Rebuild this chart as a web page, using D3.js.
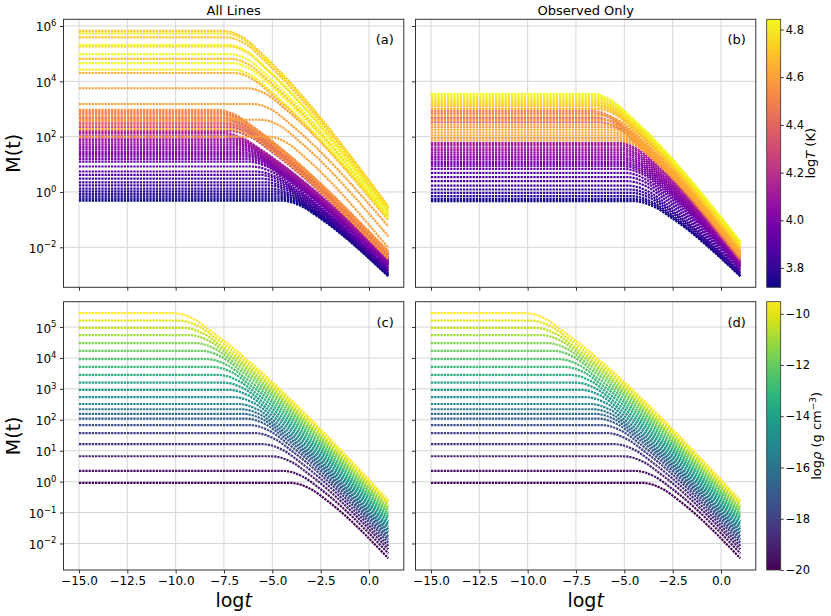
<!DOCTYPE html>
<html>
<head>
<meta charset="utf-8">
<script src="https://cdn.jsdelivr.net/npm/d3@7/dist/d3.min.js"></script>
<style>
html,body{margin:0;padding:0;background:#fff;}
svg text{font-family:"DejaVu Sans",sans-serif;fill:#000;}
</style>
</head>
<body>
<svg id="fig" width="831" height="616"></svg>
<script>
// ---------------- DATA (all M values are log10 M) ----------------
// each row: [colour value, plateau, knee centre logt, value at knee, value one unit after knee, value at logt = 1]
const xTickValues = [-15, -12.5, -10, -7.5, -5, -2.5, 0];
const topYExponents = [-2, 0, 2, 4, 6];
const bottomYExponents = [-2, -1, 0, 1, 2, 3, 4, 5];
const tempTicks = [3.8, 4.0, 4.2, 4.4, 4.6, 4.8];
const rhoTicks = [-20, -18, -16, -14, -12, -10];
const panelTitles = ["All Lines", "Observed Only"];
const panelTags = ["(a)", "(b)", "(c)", "(d)"];

// Panel (a): All Lines, colour = log T
const yellowA = [
  [4.72, 5.82, -6.46, 5.56, 4.94, -0.52],
  [4.78, 5.73, -6.42, 5.48, 4.85, -0.56],
  [4.70, 5.59, -6.36, 5.34, 4.71, -0.62],
  [4.83, 5.32, -6.28, 5.07, 4.46, -0.70],
  [4.75, 5.26, -6.25, 5.01, 4.40, -0.73],
  [4.84, 4.98, -6.18, 4.74, 4.14, -0.80],
  [4.68, 4.81, -6.14, 4.57, 3.98, -0.86],
  [4.84, 4.66, -6.10, 4.43, 3.85, -0.90],
  [4.80, 4.42, -6.04, 4.19, 3.62, -0.97],
  [4.66, 4.30, -6.00, 4.07, 3.51, -1.02]
];
const orangeA = [
  [4.60, 3.75, -5.3, 3.53, 2.98, -0.90],
  [4.60, 3.18, -5.0, 2.96, 2.41, -1.24],
  [4.60, 2.61, -4.6, 2.39, 1.83, -1.60],
  [4.60, 2.00, -4.2, 1.76, 1.18, -2.02]
];
const bandA = [
  [4.55, 2.97, -6.86, 2.77, 2.29, -2.14],
  [4.50, 2.90, -6.80, 2.70, 2.22, -2.17],
  [4.45, 2.83, -6.74, 2.63, 2.15, -2.20],
  [4.58, 2.76, -6.66, 2.56, 2.08, -2.22],
  [4.40, 2.69, -6.60, 2.49, 2.01, -2.25],
  [4.35, 2.62, -6.54, 2.42, 1.94, -2.28],
  [4.52, 2.55, -6.48, 2.35, 1.87, -2.31],
  [4.30, 2.48, -6.42, 2.28, 1.80, -2.34],
  [4.45, 2.41, -6.35, 2.21, 1.73, -2.37],
  [4.25, 2.34, -6.28, 2.14, 1.66, -2.39],
  [4.60, 2.27, -6.22, 2.07, 1.59, -2.42],
  [4.20, 2.20, -6.15, 2.00, 1.52, -2.45]
];
const purpleA = [
  [4.12, 2.13, -6.55, 1.95, 1.51, -2.40],
  [4.10, 2.04, -6.43, 1.86, 1.42, -2.42],
  [4.09, 1.96, -6.35, 1.78, 1.34, -2.45],
  [4.08, 1.88, -6.25, 1.70, 1.26, -2.47],
  [4.06, 1.79, -6.13, 1.61, 1.17, -2.49],
  [4.05, 1.71, -6.03, 1.53, 1.09, -2.51],
  [4.04, 1.62, -5.93, 1.44, 1.00, -2.54],
  [4.02, 1.54, -5.83, 1.36, 0.92, -2.56],
  [4.01, 1.45, -5.72, 1.27, 0.83, -2.58],
  [3.99, 1.37, -5.62, 1.19, 0.75, -2.60],
  [3.98, 1.29, -5.52, 1.11, 0.67, -2.62],
  [3.97, 1.20, -5.42, 1.02, 0.58, -2.65],
  [3.95, 1.10, -5.28, 0.92, 0.48, -2.67],
  [3.92, 0.92, -5.07, 0.74, 0.30, -2.72],
  [3.89, 0.74, -4.85, 0.56, 0.12, -2.77],
  [3.87, 0.62, -4.70, 0.44, 0.00, -2.80],
  [3.85, 0.48, -4.53, 0.30, -0.14, -2.84],
  [3.83, 0.35, -4.37, 0.17, -0.27, -2.87],
  [3.81, 0.24, -4.23, 0.06, -0.38, -2.90],
  [3.79, 0.12, -4.10, -0.06, -0.50, -2.94],
  [3.77, 0.02, -3.97, -0.16, -0.60, -2.96],
  [3.76, -0.07, -3.87, -0.25, -0.69, -2.99],
  [3.74, -0.16, -3.75, -0.34, -0.78, -3.01],
  [3.73, -0.24, -3.65, -0.42, -0.86, -3.03],
  [3.72, -0.31, -3.57, -0.49, -0.93, -3.05]
];

// Panel (b): Observed Only, colour = log T
const yellowB = [
  [4.84, 3.55, -5.66, 3.31, 2.72, -1.78],
  [4.82, 3.48, -5.64, 3.24, 2.65, -1.83],
  [4.80, 3.42, -5.61, 3.18, 2.59, -1.87],
  [4.78, 3.35, -5.58, 3.11, 2.52, -1.91],
  [4.76, 3.28, -5.54, 3.04, 2.45, -1.95],
  [4.74, 3.22, -5.51, 2.98, 2.39, -1.99],
  [4.72, 3.15, -5.48, 2.91, 2.32, -2.03]
];
const bandB = [
  [4.70, 3.09, -5.44, 2.85, 2.26, -2.06],
  [4.66, 3.00, -5.38, 2.76, 2.17, -2.10],
  [4.50, 2.92, -5.59, 2.68, 2.09, -2.35],
  [4.45, 2.84, -5.55, 2.60, 2.01, -2.40],
  [4.62, 2.76, -5.13, 2.52, 1.93, -2.14],
  [4.40, 2.68, -5.41, 2.44, 1.85, -2.45],
  [4.58, 2.60, -4.98, 2.36, 1.77, -2.18],
  [4.35, 2.52, -5.25, 2.28, 1.69, -2.48],
  [4.62, 2.43, -4.80, 2.19, 1.60, -2.21],
  [4.55, 2.34, -4.74, 2.10, 1.51, -2.25],
  [4.64, 2.25, -4.61, 2.01, 1.42, -2.24],
  [4.60, 2.15, -4.54, 1.91, 1.32, -2.28],
  [4.62, 2.05, -4.44, 1.81, 1.22, -2.30],
  [4.58, 1.95, -4.35, 1.71, 1.12, -2.33],
  [4.60, 1.86, -4.28, 1.62, 1.03, -2.36]
];
const purpleB = [
  [4.12, 1.77, -4.28, 1.53, 0.94, -2.45],
  [4.10, 1.69, -4.25, 1.45, 0.87, -2.47],
  [4.09, 1.60, -4.23, 1.36, 0.78, -2.50],
  [4.07, 1.52, -4.21, 1.29, 0.71, -2.52],
  [4.06, 1.43, -4.18, 1.20, 0.63, -2.55],
  [4.04, 1.35, -4.16, 1.12, 0.56, -2.57],
  [4.03, 1.26, -4.14, 1.03, 0.48, -2.60],
  [4.01, 1.18, -4.11, 0.96, 0.41, -2.62],
  [3.99, 1.09, -4.07, 0.87, 0.33, -2.64],
  [3.98, 1.01, -4.05, 0.79, 0.25, -2.67],
  [3.96, 0.93, -4.03, 0.71, 0.18, -2.69],
  [3.95, 0.83, -4.00, 0.62, 0.09, -2.72],
  [3.92, 0.69, -3.95, 0.48, -0.03, -2.76],
  [3.89, 0.54, -3.89, 0.34, -0.17, -2.80],
  [3.86, 0.39, -3.83, 0.19, -0.31, -2.84],
  [3.83, 0.23, -3.78, 0.03, -0.45, -2.89],
  [3.81, 0.09, -3.72, -0.10, -0.58, -2.93],
  [3.79, -0.03, -3.66, -0.22, -0.68, -2.96],
  [3.76, -0.15, -3.62, -0.34, -0.79, -3.00],
  [3.74, -0.25, -3.56, -0.43, -0.88, -3.02],
  [3.73, -0.33, -3.53, -0.51, -0.95, -3.05]
];

// Panels (c) and (d): colour = log rho
const rhoLines = [
  [-20, -0.04, -3.07, -0.22, -0.66, -2.48],
  [-19.5, 0.35, -3.45, 0.17, -0.27, -2.32],
  [-19, 0.82, -4.02, 0.64, 0.20, -2.19],
  [-18.5, 1.21, -4.48, 1.03, 0.59, -2.08],
  [-18, 1.57, -4.90, 1.39, 0.95, -1.97],
  [-17.5, 1.83, -5.17, 1.65, 1.21, -1.87],
  [-17, 2.04, -5.37, 1.86, 1.42, -1.78],
  [-16.5, 2.19, -5.48, 2.01, 1.57, -1.70],
  [-16, 2.34, -5.60, 2.16, 1.72, -1.62],
  [-15.5, 2.51, -5.75, 2.33, 1.89, -1.54],
  [-15, 2.73, -5.98, 2.55, 2.11, -1.46],
  [-14.5, 2.97, -6.25, 2.79, 2.35, -1.38],
  [-14, 3.20, -6.50, 3.02, 2.58, -1.30],
  [-13.5, 3.45, -6.78, 3.27, 2.83, -1.22],
  [-13, 3.71, -7.08, 3.53, 3.09, -1.14],
  [-12.5, 3.96, -7.37, 3.78, 3.34, -1.06],
  [-12, 4.23, -7.68, 4.05, 3.61, -0.98],
  [-11.5, 4.48, -7.98, 4.30, 3.86, -0.91],
  [-11, 4.74, -8.30, 4.56, 4.12, -0.84],
  [-10.5, 4.97, -8.57, 4.79, 4.35, -0.77],
  [-10, 5.21, -8.83, 5.03, 4.59, -0.69],
  [-9.5, 5.45, -9.10, 5.27, 4.83, -0.61]
];

// ---------------- DRAWING ----------------
const fig = d3.select('#fig');
const MINUS = '\u2212';
const fmtNum = (s) => String(s).replace('-', MINUS);

const tempColor = d3.scaleSequential(d3.interpolatePlasma).domain([3.719, 4.843]);
const rhoColor = d3.scaleSequential(d3.interpolateViridis).domain([-20, -9.53]);

const leftX = [63.5, 403.8], rightX = [415.5, 755.8];
const topY = [287.3, 19.3], botY = [570, 301.7];
const topDom = [Math.pow(10, -3.446), Math.pow(10, 6.242)];
const botDom = [Math.pow(10, -2.858), Math.pow(10, 5.819)];

const panels = [
  {xr: leftX, yr: topY, ydom: topDom, exps: topYExponents, groups: [purpleA, bandA, orangeA, yellowA], color: tempColor, xlab: false, ylab: true, tag: panelTags[0], title: panelTitles[0]},
  {xr: rightX, yr: topY, ydom: topDom, exps: topYExponents, groups: [purpleB, bandB, yellowB], color: tempColor, xlab: false, ylab: false, tag: panelTags[1], title: panelTitles[1]},
  {xr: leftX, yr: botY, ydom: botDom, exps: bottomYExponents, groups: [rhoLines], color: rhoColor, xlab: true, ylab: true, tag: panelTags[2]},
  {xr: rightX, yr: botY, ydom: botDom, exps: bottomYExponents, groups: [rhoLines], color: rhoColor, xlab: true, ylab: false, tag: panelTags[3]}
];

panels.forEach((P, i) => {
  const x = d3.scaleLinear().domain([-15.8, 1.8]).range(P.xr);
  const y = d3.scaleLog().domain(P.ydom).range(P.yr);
  const g = fig.append('g');
  const clipId = 'clip' + i;
  g.append('clipPath').attr('id', clipId).append('rect')
    .attr('x', P.xr[0]).attr('y', P.yr[1])
    .attr('width', P.xr[1] - P.xr[0]).attr('height', P.yr[0] - P.yr[1]);

  // grid
  const grid = g.append('g').attr('stroke', '#d6d6d6').attr('stroke-width', 1);
  grid.selectAll('line.v').data(xTickValues).join('line')
    .attr('x1', d => x(d)).attr('x2', d => x(d))
    .attr('y1', P.yr[1]).attr('y2', P.yr[0]);
  grid.selectAll('line.h').data(P.exps).join('line')
    .attr('x1', P.xr[0]).attr('x2', P.xr[1])
    .attr('y1', d => y(Math.pow(10, d))).attr('y2', d => y(Math.pow(10, d)));

  // lines
  const lineGen = d3.line()
    .x(d => x(d[0]))
    .y(d => y(Math.pow(10, d[1])))
    .curve(d3.curveMonotoneX);
  const rows = [].concat(...P.groups).slice().sort((a, b) => a[0] - b[0]);
  const lg = g.append('g').attr('clip-path', `url(#${clipId})`);
  rows.forEach(r => {
    const [v, p, c, yc, yc1, ye] = r;
    const pts = [[-15, p], [c - 1, p], [c, yc], [c + 1, yc1], [1, ye]];
    lg.append('path')
      .attr('d', lineGen(pts))
      .attr('fill', 'none')
      .attr('stroke', P.color(v))
      .attr('stroke-width', 2.2)
      .attr('stroke-dasharray', '2.3 0.9');
  });

  // spines
  g.append('rect')
    .attr('x', P.xr[0]).attr('y', P.yr[1])
    .attr('width', P.xr[1] - P.xr[0]).attr('height', P.yr[0] - P.yr[1])
    .attr('fill', 'none').attr('stroke', '#333').attr('stroke-width', 1);

  // x axis
  const xa = g.append('g').attr('transform', `translate(0,${P.yr[0]})`)
    .call(d3.axisBottom(x).tickValues(xTickValues).tickSize(3.5).tickPadding(3)
      .tickFormat(P.xlab ? (d => fmtNum(d3.format('.1f')(d))) : () => ''));
  xa.select('.domain').remove();
  xa.selectAll('line').attr('stroke', '#333');
  xa.selectAll('text').attr('font-size', 12).attr('font-family', 'DejaVu Sans').attr('fill', '#000');

  // y axis
  const ya = g.append('g').attr('transform', `translate(${P.xr[0]},0)`)
    .call(d3.axisLeft(y).tickValues(P.exps.map(e => Math.pow(10, e))).tickSize(3.5).tickFormat(() => ''));
  ya.select('.domain').remove();
  ya.selectAll('line').attr('stroke', '#333');
  if (P.ylab) {
    P.exps.forEach(e => {
      const t = g.append('text')
        .attr('x', P.xr[0] - 7).attr('y', y(Math.pow(10, e)) + 5.5)
        .attr('text-anchor', 'end').attr('font-size', 12);
      t.append('tspan').text('10');
      t.append('tspan').attr('dy', -5.5).attr('font-size', 8.5).text(fmtNum(e));
    });
  }

  // panel tag
  g.append('text').attr('x', P.xr[1] - 10).attr('y', P.yr[1] + 25)
    .attr('text-anchor', 'end').attr('font-size', 13).text(P.tag);

  if (P.title) {
    g.append('text').attr('x', (P.xr[0] + P.xr[1]) / 2).attr('y', 14.5)
      .attr('text-anchor', 'middle').attr('font-size', 13).text(P.title);
  }
});

// axis labels
[topY, botY].forEach(yr => {
  const cy = (yr[0] + yr[1]) / 2;
  fig.append('text').attr('transform', `translate(19.5,${cy}) rotate(-90)`)
    .attr('text-anchor', 'middle').attr('font-size', 19).text('M(t)');
});
[leftX, rightX].forEach(xr => {
  const t = fig.append('text').attr('x', (xr[0] + xr[1]) / 2).attr('y', 607)
    .attr('text-anchor', 'middle').attr('font-size', 19);
  t.append('tspan').text('log');
  t.append('tspan').attr('font-style', 'italic').text('t');
});

// colour bars
function colorbar(id, interp, dom, yr, ticks, fmt) {
  const cbX = [766.7, 780.7];
  const s = d3.scaleLinear().domain(dom).range(yr);
  const grad = fig.append('defs').append('linearGradient').attr('id', id)
    .attr('x1', 0).attr('y1', 1).attr('x2', 0).attr('y2', 0);
  d3.range(0, 1.0001, 0.05).forEach(t => {
    grad.append('stop').attr('offset', t).attr('stop-color', interp(t));
  });
  fig.append('rect').attr('x', cbX[0]).attr('y', yr[1])
    .attr('width', cbX[1] - cbX[0]).attr('height', yr[0] - yr[1])
    .attr('fill', `url(#${id})`).attr('stroke', '#333').attr('stroke-width', 0.8);
  const ax = fig.append('g').attr('transform', `translate(${cbX[1]},0)`)
    .call(d3.axisRight(s).tickValues(ticks).tickSize(3).tickPadding(2).tickFormat(fmt));
  ax.select('.domain').remove();
  ax.selectAll('line').attr('stroke', '#333');
  ax.selectAll('text').attr('font-size', 11.5).attr('font-family', 'DejaVu Sans').attr('fill', '#000');
}
colorbar('gradT', d3.interpolatePlasma, [3.719, 4.843], topY, tempTicks, d => d3.format('.1f')(d));
colorbar('gradR', d3.interpolateViridis, [-20, -9.53], botY, rhoTicks, d => fmtNum(d));

// colour bar labels
{
  const cy = (topY[0] + topY[1]) / 2;
  const t = fig.append('text').attr('transform', `translate(815,${cy}) rotate(-90)`)
    .attr('text-anchor', 'middle').attr('font-size', 13);
  t.append('tspan').text('log');
  t.append('tspan').attr('font-style', 'italic').text('T');
  t.append('tspan').text(' (K)');
}
{
  const cy = (botY[0] + botY[1]) / 2;
  const t = fig.append('text').attr('transform', `translate(821,${cy}) rotate(-90)`)
    .attr('text-anchor', 'middle').attr('font-size', 13);
  t.append('tspan').text('log');
  t.append('tspan').attr('font-style', 'italic').text('\u03C1');
  t.append('tspan').text(' (g cm');
  t.append('tspan').attr('dy', -5).attr('font-size', 9).text(MINUS + '3');
  t.append('tspan').attr('dy', 5).text(')');
}
</script>
</body>
</html>
